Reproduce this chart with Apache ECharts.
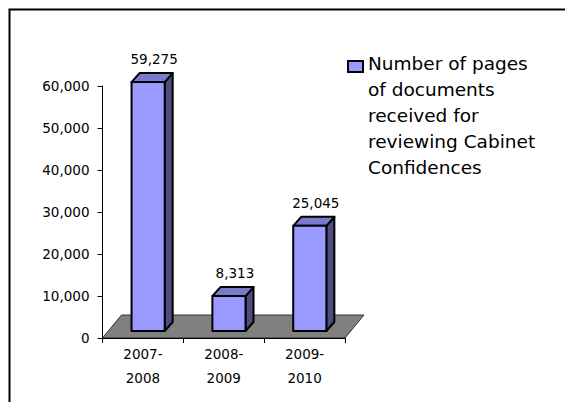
<!DOCTYPE html>
<html>
<head>
<meta charset="utf-8">
<script src="https://cdn.jsdelivr.net/npm/echarts@6/dist/echarts.min.js"></script>
<style>
  html, body { margin: 0; padding: 0; background: #ffffff; }
  #chart { width: 565px; height: 402px; }
</style>
</head>
<body>
<div id="chart"></div>
<script>
// ---- data ----
const categories = ['2007-\n2008', '2008-\n2009', '2009-\n2010'];
const pages = [59275, 8313, 25045];
const seriesName = 'Number of pages\nof documents\nreceived for\nreviewing Cabinet\nConfidences';
const yTicks = { min: 0, max: 60000, interval: 10000 };

// ---- styles ----
const FONT = 'DejaVu Sans';
const FRONT = '#9999FF', TOP = '#7A7ACC', SIDE = '#4D4D80';
const DEPTH_X = 8, DEPTH_Y = -9;      // bar depth
const SHIFT_X = 5.2, SHIFT_Y = -7;    // bar placed inside floor
const FLOOR_X = 19, FLOOR_Y = -23;    // floor depth
// legend swatch sits at the first text line: square in the top of a tall icon box
const LEGEND_ICON = 'path://M0 0M15 130M0 11H15V22H0Z';

const chart = echarts.init(document.getElementById('chart'), null, { renderer: 'svg' });

function fmt(v) { return Number(v).toLocaleString('en-US'); }

chart.setOption({
  backgroundColor: '#ffffff',
  animation: false,
  graphic: [{
    type: 'rect', left: 7, top: 7, z: 100, silent: true,
    shape: { x: 0, y: 0, width: 620, height: 460 },
    style: { fill: 'none', stroke: '#000', lineWidth: 2 }
  }],
  grid: { left: 102.5, top: 86, width: 242.5, height: 252, containLabel: false },
  legend: {
    left: 347, top: 49, padding: 0,
    data: [seriesName],
    itemWidth: 15, itemHeight: 130,
    icon: LEGEND_ICON,
    itemStyle: { color: FRONT, borderColor: '#000', borderWidth: 2 },
    textStyle: { fontFamily: FONT, fontSize: 18.5, color: '#000', lineHeight: 26 }
  },
  xAxis: {
    type: 'category',
    data: categories,
    axisLine: { show: true, lineStyle: { color: '#000', width: 1 } },
    axisTick: { show: true, length: 5, lineStyle: { color: '#000' } },
    axisLabel: { fontFamily: FONT, fontSize: 13.5, color: '#000', lineHeight: 24, margin: 4 },
    z: 10
  },
  yAxis: {
    type: 'value',
    min: yTicks.min, max: yTicks.max, interval: yTicks.interval,
    axisLine: { show: true, lineStyle: { color: '#000', width: 1 } },
    axisTick: { show: true, length: 5, lineStyle: { color: '#000' } },
    splitLine: { show: false },
    axisLabel: { fontFamily: FONT, fontSize: 13.5, color: '#000', margin: 13, formatter: fmt },
    z: 10
  },
  series: [
    {
      type: 'custom',
      name: 'floor',
      silent: true,
      z: 1,
      data: [[0, 0]],
      renderItem: function (params, api) {
        const cs = params.coordSys;
        const x0 = cs.x, x1 = cs.x + cs.width, y0 = cs.y + cs.height;
        return {
          type: 'polygon',
          shape: { points: [[x0, y0], [x1, y0], [x1 + FLOOR_X, y0 + FLOOR_Y], [x0 + FLOOR_X, y0 + FLOOR_Y]] },
          style: { fill: '#808080', stroke: '#333', lineWidth: 1 }
        };
      }
    },
    {
      type: 'custom',
      name: seriesName,
      z: 3,
      itemStyle: { color: FRONT },
      encode: { x: 0, y: 1 },
      data: pages.map((v, i) => [i, v]),
      renderItem: function (params, api) {
        const idx = api.value(0), v = api.value(1);
        const top = api.coord([idx, v]);
        const base = api.coord([idx, 0]);
        const bw = api.size([1, 0])[0];
        const fw = bw * 0.41;
        const cx = top[0] + SHIFT_X;
        const fl = cx - fw / 2, fr = cx + fw / 2;
        const ft = top[1] + SHIFT_Y, fb = base[1] + SHIFT_Y;
        const edge = { stroke: '#000', lineWidth: 2, lineJoin: 'round' };
        return {
          type: 'group',
          children: [
            {
              type: 'polygon',
              shape: { points: [[fr, ft], [fr + DEPTH_X, ft + DEPTH_Y], [fr + DEPTH_X, fb + DEPTH_Y], [fr, fb]] },
              style: Object.assign({ fill: SIDE }, edge)
            },
            {
              type: 'polygon',
              shape: { points: [[fl, ft], [fl + DEPTH_X, ft + DEPTH_Y], [fr + DEPTH_X, ft + DEPTH_Y], [fr, ft]] },
              style: Object.assign({ fill: TOP }, edge)
            },
            {
              type: 'rect',
              shape: { x: fl, y: ft, width: fw, height: fb - ft },
              style: Object.assign({ fill: FRONT }, edge)
            },
            {
              type: 'text',
              style: {
                text: fmt(v),
                x: cx + DEPTH_X / 2 + 2,
                y: ft + DEPTH_Y - 14,
                align: 'center', verticalAlign: 'middle',
                fontFamily: FONT, fontSize: 13.5, fill: '#000'
              }
            }
          ]
        };
      }
    }
  ]
});
</script>
</body>
</html>
